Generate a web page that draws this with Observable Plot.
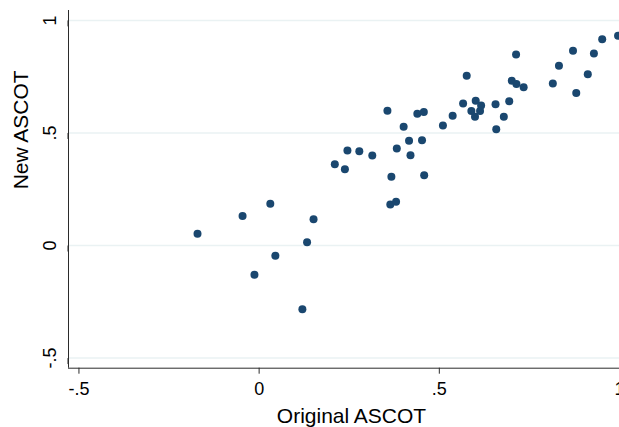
<!DOCTYPE html>
<html><head><meta charset="utf-8">
<script src="https://cdn.jsdelivr.net/npm/d3@7"></script>
<script src="https://cdn.jsdelivr.net/npm/@observablehq/plot@0.6"></script>
<style>body{margin:0;background:#fff;overflow:hidden}</style>
</head><body><div id="chart"></div>
<script>
const originalAscot = [-0.171,-0.046,0.031,0.151,0.133,0.045,-0.013,0.120,0.210,0.238,0.245,0.278,0.314,0.356,0.367,0.364,0.380,0.382,0.401,0.416,0.420,0.439,0.457,0.452,0.458,0.510,0.537,0.566,0.576,0.589,0.599,0.601,0.613,0.616,0.656,0.658,0.679,0.694,0.701,0.713,0.714,0.734,0.815,0.832,0.871,0.880,0.912,0.929,0.952,0.996];
const newAscot = [0.052,0.131,0.185,0.117,0.015,-0.046,-0.130,-0.283,0.361,0.339,0.422,0.419,0.400,0.599,0.305,0.182,0.194,0.431,0.528,0.465,0.401,0.585,0.593,0.468,0.312,0.533,0.576,0.631,0.754,0.597,0.572,0.643,0.597,0.622,0.627,0.516,0.572,0.641,0.732,0.848,0.717,0.703,0.720,0.799,0.865,0.677,0.761,0.853,0.916,0.932];
const xTicks = [-0.5, 0, 0.5, 1];
const xTickLabels = ["-.5", "0", ".5", "1"];
const yTicks = [-0.5, 0, 0.5, 1];
const yTickLabels = ["-.5", "0", ".5", "1"];
const xDomain = [-0.529, 1.0];
const yDomain = [-0.545, 1.044];
const xTitle = "Original ASCOT";
const yTitle = "New ASCOT";

const data = originalAscot.map((x, i) => ({x, y: newAscot[i]}));
const axisColor = "#2b2b2b";

const chart = Plot.plot({
  width: 619, height: 427,
  marginLeft: 68, marginRight: 0, marginTop: 10, marginBottom: 59.3,
  style: {fontFamily: "'Liberation Sans', Arial, sans-serif", background: "#fff", color: "#000"},
  x: {domain: xDomain},
  y: {domain: yDomain},
  marks: [
    Plot.gridY(yTicks, {stroke: "#eaf2f3", strokeOpacity: 1, strokeWidth: 1.5}),
    Plot.ruleX([xDomain[0]], {stroke: axisColor, strokeWidth: 1}),
    Plot.ruleY([yDomain[0]], {stroke: axisColor, strokeWidth: 1}),
    Plot.axisX(xTicks, {tickSize: 6, tickPadding: 8, fontSize: 18, stroke: axisColor, fill: "#000",
      tickFormat: d => xTickLabels[xTicks.indexOf(d)], label: null}),
    Plot.axisY(yTicks, {tickSize: 6, tickPadding: 7, fontSize: 18, stroke: axisColor, fill: "#000",
      rotate: -90, textAnchor: "middle", lineAnchor: "bottom",
      tickFormat: d => yTickLabels[yTicks.indexOf(d)], label: null}),
    Plot.dot(data, {x: "x", y: "y", r: 4, fill: "#1a476f", stroke: "none"}),
    Plot.text([yTitle], {frameAnchor: "left", rotate: -90, dx: -41, lineAnchor: "bottom", fontSize: 21, fill: "#000"}),
    Plot.text([xTitle], {frameAnchor: "bottom", dy: 54.3, dx: 7.5, lineAnchor: "bottom", fontSize: 21, fill: "#000"})
  ]
});
document.getElementById("chart").appendChild(chart);
</script>
</body></html>
